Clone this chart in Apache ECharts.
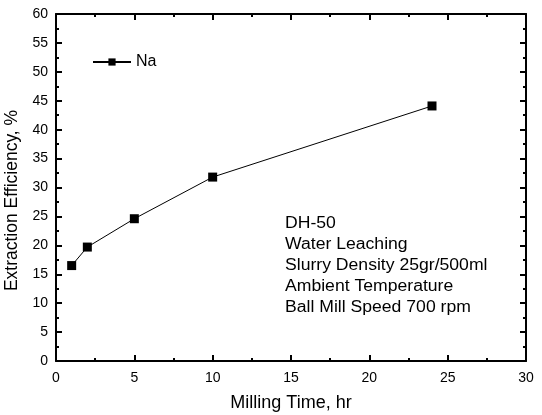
<!DOCTYPE html>
<html><head><meta charset="utf-8">
<script src="https://cdn.jsdelivr.net/npm/echarts@6/dist/echarts.min.js"></script>
<style>html,body{margin:0;padding:0;background:#fff}#c{width:542px;height:415px}</style>
</head><body><div id="c"></div>
<script>
const millingTime = [1, 2, 5, 10, 24];
const naEfficiency = [16.5, 19.7, 24.6, 31.8, 44.1];
const seriesName = 'Na';
const xTitle = 'Milling Time, hr';
const yTitle = 'Extraction Efficiency, %';
const noteLines = ['DH-50', 'Water Leaching', 'Slurry Density 25gr/500ml', 'Ambient Temperature', 'Ball Mill Speed 700 rpm'];

const font = 'Liberation Sans, Arial, sans-serif';
const chart = echarts.init(document.getElementById('c'), null, {renderer: 'canvas'});
function makeAxis(extra, labels, margin) {
  return Object.assign({
    type: 'value',
    axisLine: {show: true, onZero: false, lineStyle: {color: '#000', width: 2}},
    axisTick: {show: true, inside: true, length: 6, lineStyle: {color: '#000', width: 2}},
    minorTick: {show: true, splitNumber: 2, length: 3, lineStyle: {color: '#000', width: 2}},
    splitLine: {show: false},
    minorSplitLine: {show: false},
    axisLabel: labels ? {show: true, color: '#000', fontSize: 14, fontFamily: font, margin: margin} : {show: false}
  }, extra);
}
chart.setOption({
  animation: false,
  backgroundColor: '#fff',
  grid: {left: 56, right: 16, top: 14, bottom: 54, containLabel: false, outerBoundsMode: 'none'},
  legend: {
    data: [seriesName], left: 87, top: 49, itemWidth: 38, itemHeight: 9, itemGap: 5,
    textStyle: {color: '#000', fontSize: 16, fontFamily: font}
  },
  xAxis: [
    makeAxis({min: 0, max: 30, interval: 5, position: 'bottom',
      name: xTitle, nameLocation: 'middle', nameGap: 33,
      nameTextStyle: {color: '#000', fontSize: 18, fontFamily: font}}, true, 10),
    makeAxis({min: 0, max: 30, interval: 5, position: 'top'}, false)
  ],
  yAxis: [
    makeAxis({min: 0, max: 60, interval: 5, position: 'left',
      name: yTitle, nameLocation: 'middle', nameGap: 30,
      nameTextStyle: {color: '#000', fontSize: 17.5, fontFamily: font, padding: [0, 26, 0, 0]}}, true, 8),
    makeAxis({min: 0, max: 60, interval: 5, position: 'right'}, false)
  ],
  graphic: [{
    type: 'text', left: 285, top: 213, scaleX: 1.1,
    style: {text: noteLines.join('\n'), fill: '#000', fontSize: 16, fontFamily: font, lineHeight: 21}
  }],
  series: [{
    name: seriesName, type: 'line', xAxisIndex: 0, yAxisIndex: 0,
    data: millingTime.map((t, i) => [t, naEfficiency[i]]),
    symbol: 'rect', symbolSize: 9,
    lineStyle: {color: '#000', width: 1},
    itemStyle: {color: '#000'}
  }]
});
</script></body></html>
